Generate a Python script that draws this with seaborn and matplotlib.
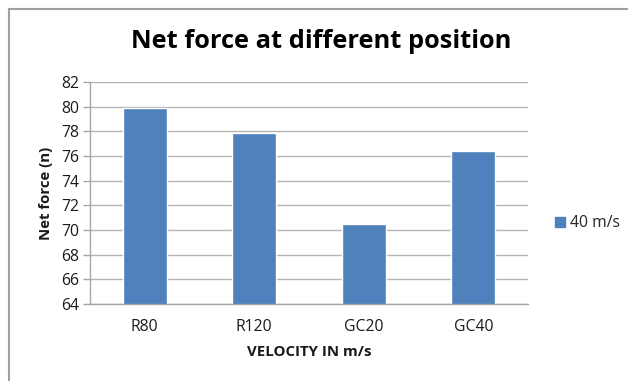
import matplotlib
matplotlib.use("Agg")
import matplotlib.pyplot as plt
from matplotlib.patches import Patch
from matplotlib.lines import Line2D
import seaborn as sns
import pandas as pd

# Data
categories = ["R80", "R120", "GC20", "GC40"]
net_force = [79.9, 77.9, 70.5, 76.4]
series_name = "40 m/s"
y_ticks = [64, 66, 68, 70, 72, 74, 76, 78, 80, 82]

bar_color = "#4F81BD"
grid_color = "#B3B3B3"
axis_color = "#A6A6A6"
text_color = "#1A1A1A"

df = pd.DataFrame({"position": categories, "force": net_force,
                   "series": [series_name] * len(categories)})

sns.set_theme(style="white")
plt.rcParams["font.family"] = ["Open Sans", "DejaVu Sans"]

fig = plt.figure(figsize=(6.28, 3.81), dpi=100)
ax = fig.add_axes([0.1433, 0.2021, 0.6975, 0.5827])

sns.barplot(data=df, x="position", y="force", hue="series",
            palette=[bar_color], width=0.4, dodge=False, ax=ax,
            legend=False, saturation=1)

ax.set_ylim(64, 82)
ax.set_xlim(-0.5, 3.5)
ax.set_yticks(y_ticks)
ax.set_yticklabels([str(t) for t in y_ticks], fontsize=11.3, color=text_color)
ax.set_xticks(range(len(categories)))
ax.set_xticklabels(categories, fontsize=11.3, color=text_color)
ax.set_xticks([i - 0.5 for i in range(len(categories) + 1)], minor=True)
ax.tick_params(axis="x", which="major", length=0, pad=11)
ax.tick_params(axis="x", which="minor", length=5, width=1, color=axis_color, direction="out")
ax.tick_params(axis="y", length=5, width=1, color=axis_color, direction="out", pad=3, left=True)

ax.yaxis.grid(True, color=grid_color, linewidth=1)
ax.set_axisbelow(True)
for side in ["top", "right"]:
    ax.spines[side].set_visible(False)
for side in ["left", "bottom"]:
    ax.spines[side].set_color(axis_color)
    ax.spines[side].set_linewidth(1)

ax.set_xlabel("VELOCITY IN m/s", fontsize=10.8, fontweight="bold", color=text_color, labelpad=7)
ax.set_ylabel("Net force (n)", fontsize=10.8, fontweight="bold", color=text_color, labelpad=6)

fig.text(0.511, 0.892, "Net force at different position", ha="center", va="center",
         fontsize=18.3, fontweight="bold", color="black")

handle = Patch(facecolor=bar_color, edgecolor=bar_color)
fig.legend([handle], [series_name], loc="center left", bbox_to_anchor=(0.884, 0.414),
           frameon=False, fontsize=11.3, handlelength=0.65, handleheight=0.65,
           handletextpad=0.3, borderpad=0, borderaxespad=0)

# Outer frame lines along the top and left of the chart area
fig.add_artist(Line2D([9 / 628, 1], [1 - 9 / 381, 1 - 9 / 381], transform=fig.transFigure,
                      color="#A0A0A0", linewidth=1.5))
fig.add_artist(Line2D([9 / 628, 9 / 628], [0, 1 - 9 / 381], transform=fig.transFigure,
                      color="#A0A0A0", linewidth=1.5))

fig.savefig("out.png", dpi=100)
